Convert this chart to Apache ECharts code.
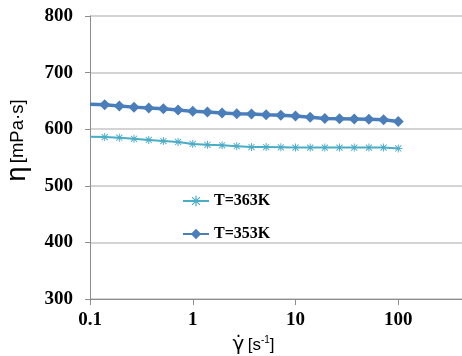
<!DOCTYPE html>
<html>
<head>
<meta charset="utf-8">
<script src="https://cdn.jsdelivr.net/npm/echarts@6/dist/echarts.min.js"></script>
<style>
  html, body { margin: 0; padding: 0; background: #fff; }
  #chart { width: 462px; height: 356px; }
</style>
</head>
<body>
<div id="chart"></div>
<script>
// shear rate [1/s], 7 points per decade
const shearRates = [0.1, 0.139, 0.193, 0.268, 0.373, 0.518, 0.72, 1, 1.39, 1.93, 2.68,
  3.73, 5.18, 7.2, 10, 13.9, 19.3, 26.8, 37.3, 51.8, 72, 100]

// viscosity [mPa.s]
const eta363 = [586.5, 586, 585, 583, 581, 579, 577.5, 574, 572.5, 571.5, 570,
  568.5, 568.5, 568, 567.5, 567.5, 567.5, 567.5, 567.5, 567.5, 567.5, 566]
const eta353 = [644, 643, 641, 639, 637.5, 636, 634, 631.5, 630.5, 628.5, 627.5,
  627, 625.5, 624.5, 623.5, 621, 619, 618.5, 618, 617.5, 616.5, 613.5]

const seriesNames = ['T=363K', 'T=353K']

// excel-like asterisk marker
const asterisk = 'path://M4.4 0L5.6 0L5.6 10L4.4 10ZM0 4.4L10 4.4L10 5.6L0 5.6Z' +
  'M0.8 1.6L1.6 0.8L9.2 8.4L8.4 9.2ZM8.4 0.8L9.2 1.6L1.6 9.2L0.8 8.4Z'

function toPoints(ys) {
  return ys.map((y, i) => {
    const item = { value: [shearRates[i], y] }
    if (i === 0) item.symbol = 'none'
    return item
  })
}

const serif = 'Liberation Serif'
const sans = 'Liberation Sans'

const chart = echarts.init(document.getElementById('chart'))

chart.setOption({
  animation: false,
  grid: {
    left: 90,
    top: 16,
    width: 411,
    height: 283,
    outerBoundsMode: 'none',
    containLabel: false,
  },
  legend: {
    orient: 'vertical',
    left: 177,
    top: 188,
    itemGap: 17,
    itemWidth: 26,
    itemHeight: 13,
    data: seriesNames,
    itemStyle: { borderWidth: 0 },
    textStyle: {
      fontFamily: serif,
      fontWeight: 'bold',
      fontSize: 16,
      color: '#000',
    },
  },
  xAxis: {
    type: 'log',
    logBase: 10,
    min: 0.1,
    max: 1000,
    name: '{g|γ̇} {t|[s}{sup|-1}{t|]}',
    nameLocation: 'middle',
    nameGap: 30,
    nameTextStyle: {
      padding: [0, 84, 0, 0],
      rich: {
        g: { fontFamily: 'DejaVu Sans', fontSize: 20, color: '#000' },
        t: { fontFamily: sans, fontSize: 17, color: '#000' },
        sup: { fontFamily: sans, fontSize: 10, color: '#000', verticalAlign: 'top', padding: [0, 0, 8, 0] },
      },
    },
    axisLine: { lineStyle: { color: '#8c8c8c', width: 1 } },
    axisTick: { show: true, length: 6, lineStyle: { color: '#8c8c8c' } },
    minorTick: { show: false },
    splitLine: { show: false },
    axisLabel: {
      margin: 12,
      fontFamily: serif,
      fontWeight: 'bold',
      fontSize: 19,
      color: '#000',
      formatter: (v) => String(v),
    },
  },
  yAxis: {
    type: 'value',
    min: 300,
    max: 800,
    interval: 100,
    name: '{e|η} {u|[mPa·s]}',
    nameLocation: 'middle',
    nameRotate: 90,
    nameGap: 59,
    nameTextStyle: {
      padding: [0, 0, 0, 34],
      rich: {
        e: { fontFamily: sans, fontSize: 27, color: '#000' },
        u: { fontFamily: sans, fontSize: 18.5, color: '#000' },
      },
    },
    axisLine: { show: true, lineStyle: { color: '#8c8c8c', width: 1 } },
    axisTick: { show: true, length: 5, lineStyle: { color: '#8c8c8c' } },
    splitLine: { show: true, lineStyle: { color: '#d4d4d4', width: 2 } },
    axisLabel: {
      margin: 17,
      fontFamily: serif,
      fontWeight: 'bold',
      fontSize: 19,
      color: '#000',
    },
  },
  series: [
    {
      name: seriesNames[0],
      type: 'line',
      data: toPoints(eta363),
      symbol: asterisk,
      symbolSize: 8,
      itemStyle: { color: '#4bacc6', borderWidth: 0 },
      lineStyle: { color: '#4bacc6', width: 2 },
      z: 3,
    },
    {
      name: seriesNames[1],
      type: 'line',
      data: toPoints(eta353),
      symbol: 'diamond',
      symbolSize: 11,
      itemStyle: { color: '#4a7ebb' },
      lineStyle: { color: '#4a7ebb', width: 3.5 },
      z: 4,
    },
  ],
})
</script>
</body>
</html>
